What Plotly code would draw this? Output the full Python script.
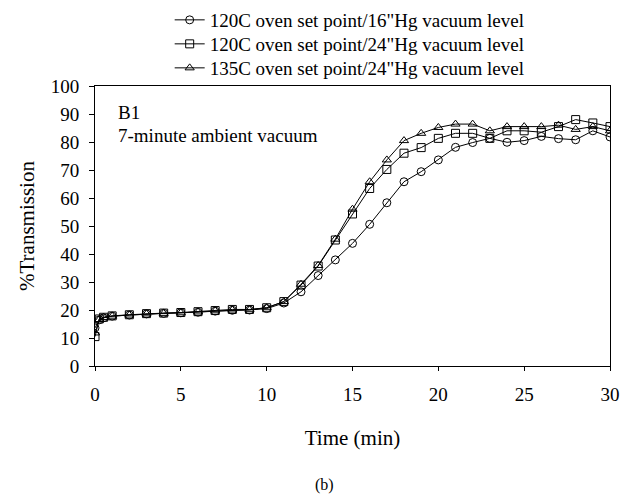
import plotly.graph_objects as go

time = [0, 0.25, 0.5, 1, 2, 3, 4, 5, 6, 7, 8, 9, 10, 11, 12, 13, 14, 15, 16, 17, 18,
        19, 20, 21, 22, 23, 24, 25, 26, 27, 28, 29, 30]

s16_120 = [13.6, 16.5, 17.2, 17.8, 18.2, 18.6, 18.8, 19.0, 19.2, 19.6, 19.9, 20.0, 20.5,
           22.5, 26.5, 32.3, 37.9, 43.8, 50.6, 58.3, 65.8, 69.4, 73.6, 78.1, 79.8, 81.3,
           79.9, 80.5, 82.0, 81.2, 80.8, 84.0, 81.8]
s24_120 = [10.5, 16.8, 17.4, 17.9, 18.3, 18.7, 18.9, 19.1, 19.4, 19.8, 20.2, 20.2, 20.8,
           23.0, 28.9, 35.7, 45.0, 54.3, 63.4, 70.2, 76.0, 78.0, 81.3, 83.1, 83.1, 81.3,
           84.0, 84.0, 83.5, 85.5, 88.0, 86.8, 85.5]
s24_135 = [11.8, 16.6, 17.3, 17.8, 18.2, 18.6, 18.8, 19.0, 19.3, 19.7, 20.0, 20.1, 20.8,
           23.0, 29.2, 35.9, 45.3, 56.0, 65.8, 73.6, 80.5, 83.1, 85.2, 86.4, 86.4, 84.0,
           85.5, 85.5, 85.5, 86.0, 84.5, 85.5, 84.0]

names = ["120C oven set point/16\"Hg vacuum level",
         "120C oven set point/24\"Hg vacuum level",
         "135C oven set point/24\"Hg vacuum level"]
symbols = ["circle-open", "square-open", "triangle-up-open"]
series = [s16_120, s24_120, s24_135]
legend_ids = ["legend", "legend2", "legend3"]

FONT = "Liberation Serif, Times New Roman, serif"
TOP, BOTTOM, LEFT, RIGHT = 86, 366, 95, 610
PH = BOTTOM - TOP
PW = RIGHT - LEFT

fig = go.Figure()
for name, sym, ys, lg in zip(names, symbols, series, legend_ids):
    fig.add_trace(go.Scatter(
        x=time, y=ys, name=name, mode="lines+markers", legend=lg,
        line=dict(color="black", width=1),
        marker=dict(symbol=sym, size=8, color="black", line=dict(width=1, color="black")),
    ))

legend_rows = [20, 44, 68]
legend_common = dict(xanchor="left", yanchor="middle",
                     font=dict(family=FONT, size=19, color="black"),
                     bgcolor="rgba(0,0,0,0)", itemwidth=30)
legends = {}
for lg, yc in zip(legend_ids, legend_rows):
    legends[lg] = dict(x=0.145, y=1 + (TOP - yc) / PH, **legend_common)

fig.update_layout(
    width=621, height=494,
    margin=dict(l=LEFT, r=621 - RIGHT, t=TOP, b=494 - BOTTOM, autoexpand=False),
    paper_bgcolor="white", plot_bgcolor="white",
    font=dict(family=FONT, size=19, color="black"),
    showlegend=True,
    **legends,
    xaxis=dict(range=[0, 30], tickvals=[0, 5, 10, 15, 20, 25, 30],
               showline=True, linecolor="black", linewidth=1, mirror=True,
               ticks="outside", ticklen=4, tickcolor="black", showgrid=False,
               zeroline=False, ticklabelstandoff=7,
               tickfont=dict(family=FONT, size=19),
               title=dict(text="Time (min)", font=dict(family=FONT, size=21), standoff=26)),
    yaxis=dict(range=[0, 100], tickvals=list(range(0, 101, 10)),
               showline=True, linecolor="black", linewidth=1, mirror=True,
               ticks="outside", ticklen=5, tickcolor="black", showgrid=False,
               zeroline=False, ticklabelstandoff=6,
               tickfont=dict(family=FONT, size=19),
               title=dict(text="%Transmission", font=dict(family=FONT, size=21), standoff=10)),
    annotations=[
        dict(x=0.04, y=0.905, xref="paper", yref="paper", text="B1", showarrow=False,
             xanchor="left", yanchor="middle", font=dict(family=FONT, size=19)),
        dict(x=0.04, y=0.822, xref="paper", yref="paper", text="7-minute ambient vacuum",
             showarrow=False, xanchor="left", yanchor="middle", font=dict(family=FONT, size=19)),
        dict(x=(324 - LEFT) / PW, y=-(485 - BOTTOM) / PH, xref="paper", yref="paper",
             text="(b)", showarrow=False, xanchor="center", yanchor="middle",
             font=dict(family=FONT, size=16)),
    ],
)

fig.write_html("out.html")
